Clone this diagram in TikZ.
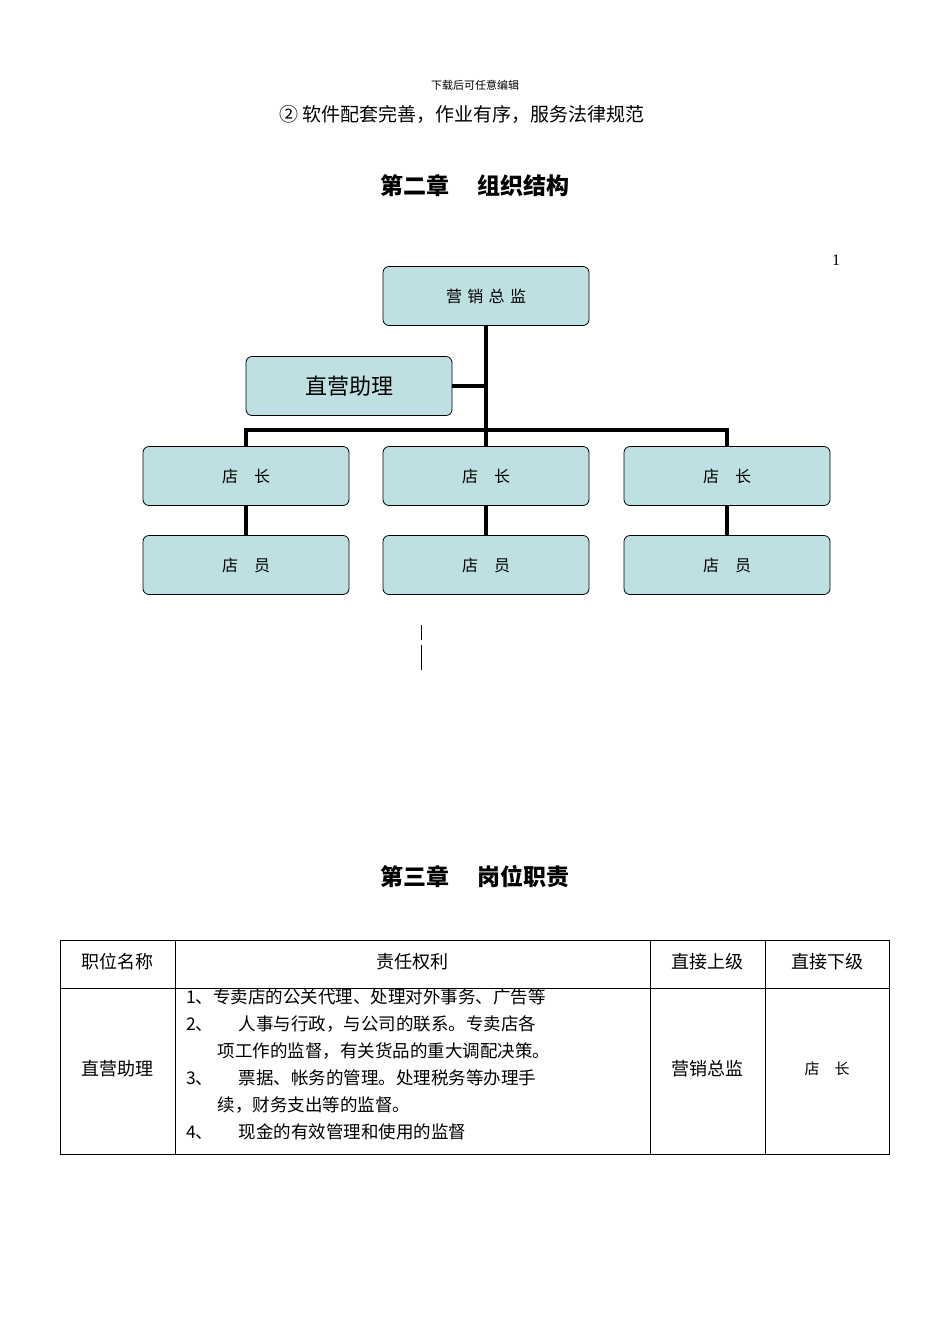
\documentclass[tikz,border=0pt]{standalone}
\usepackage{fontspec}
\setmainfont{Liberation Serif}
\newfontfamily\cjk{Noto Sans CJK SC}
\begin{document}
\begin{tikzpicture}[x=1pt,y=-1pt,
  box/.style={draw=black,thick,fill=boxfill,rounded corners=6pt,minimum width=206pt,minimum height=59pt,font=\cjk\fontsize{16}{16}\selectfont},
  conn/.style={line width=3.5pt},
  cell/.style={font=\cjk\fontsize{18}{18}\selectfont}]
\definecolor{boxfill}{HTML}{BEE0E2}
\useasboundingbox (0,0) rectangle (950,1342);
\node[font=\cjk\fontsize{11}{11}\selectfont] (hdr) at (475,85) {下载后可任意编辑};
\node[font=\cjk\fontsize{19}{19}\selectfont] (l2) at (462,114) {② 软件配套完善，作业有序，服务法律规范};
\node[font=\cjk\bfseries\fontsize{23}{23}\selectfont] (ch2) at (475,186) {第二章\quad\ 组织结构};
\node[font=\fontsize{16}{16}\selectfont] (pg) at (836,260) {1};
\node[box] (top) at (486,296) {营\,\,销\,\,总\,\,监};
\node[box,font=\cjk\fontsize{22}{22}\selectfont] (asst) at (349,386) {直营助理};
\node[box] (m1) at (246,476) {店\quad 长};
\node[box] (m2) at (486,476) {店\quad 长};
\node[box] (m3) at (727,476) {店\quad 长};
\node[box] (s1) at (246,565) {店\quad 员};
\node[box] (s2) at (486,565) {店\quad 员};
\node[box] (s3) at (727,565) {店\quad 员};
\coordinate (bus) at (486,430);
\draw[conn] (top.south) -- (bus);
\draw[conn] (asst.east) -- (asst.east -| top.south);
\draw[conn] (m1.north) |- (bus) -| (m3.north);
\draw[conn] (bus) -- (m2.north);
\draw[conn] (m1) -- (s1); \draw[conn] (m2) -- (s2); \draw[conn] (m3) -- (s3);
\coordinate (c1) at (421,625); \coordinate (c2) at (421,640);
\coordinate (c3) at (421,645); \coordinate (c4) at (421,670);
\draw (c1) -- (c2); \draw (c3) -- (c4);
\node[font=\cjk\bfseries\fontsize{23}{23}\selectfont] (ch3) at (475,877) {第三章\quad\ 岗位职责};
\draw (60,940) rectangle (889,1154);
\draw (60,988) -- (889,988);
\foreach \x in {175,650,765} \draw (\x,940) -- (\x,1154);
\node[cell] (h1) at (117.5,962) {职位名称};
\node[cell] (h2) at (412.5,962) {责任权利};
\node[cell] (h3) at (707.5,962) {直接上级};
\node[cell] (h4) at (827,962) {直接下级};
\node[cell] (r1) at (117.5,1069) {直营助理};
\node[cell,anchor=north west,align=left,inner sep=0pt,font=\cjk\fontsize{17.5}{27}\selectfont] (r2) at (186,988) {1、专卖店的公关代理、处理对外事务、广告等\\2、\quad\ \ 人事与行政，与公司的联系。专卖店各\\\hspace*{1.8em}项工作的监督，有关货品的重大调配决策。\\3、\quad\ \ 票据、帐务的管理。处理税务等办理手\\\hspace*{1.8em}续，财务支出等的监督。\\4、\quad\ \ 现金的有效管理和使用的监督};
\node[cell] (r3) at (707.5,1069) {营销总监};
\node[cell,font=\cjk\fontsize{15}{15}\selectfont] (r4) at (827,1069) {店\quad 长};
\end{tikzpicture}
\end{document}
